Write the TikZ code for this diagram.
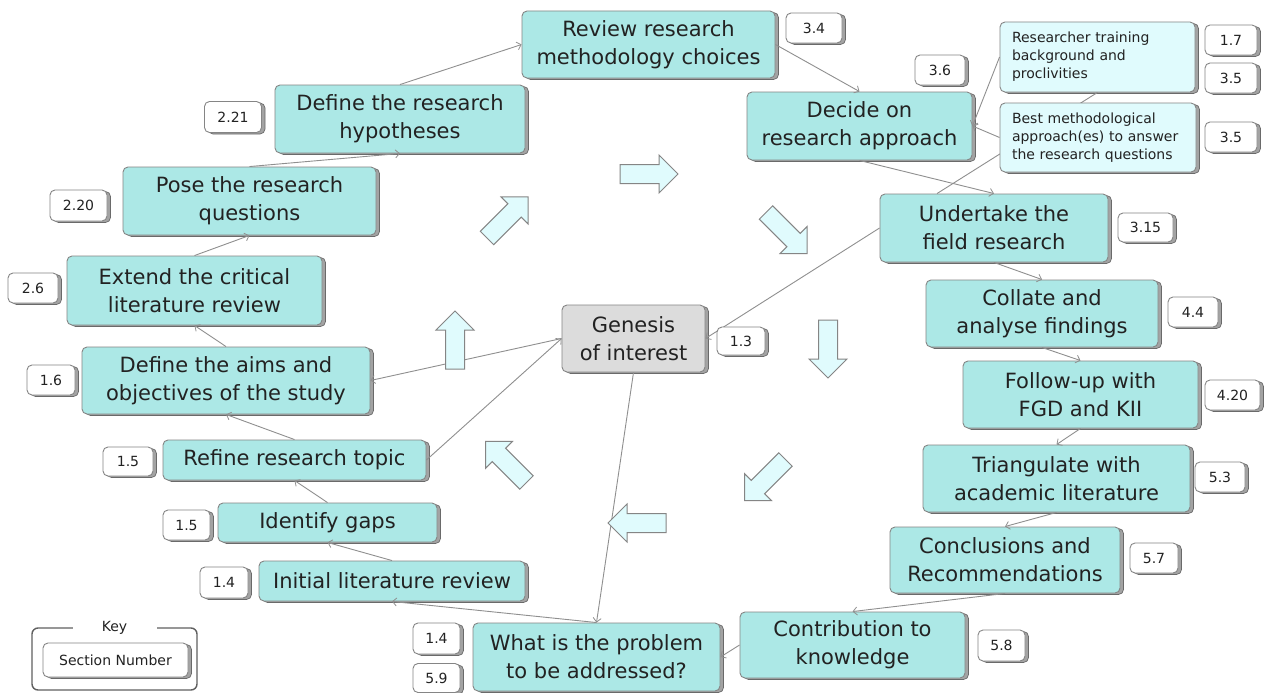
\documentclass[tikz,border=0pt]{standalone}
\usepackage{fontspec}
\newfontfamily\dvs{DejaVu Sans}
\usetikzlibrary{arrows.meta,shadows,backgrounds}

\definecolor{boxteal}{HTML}{ACE8E6}
\definecolor{boxpale}{HTML}{E0FBFD}
\definecolor{boxgrey}{HTML}{DCDCDC}
\definecolor{edgegrey}{HTML}{858585}
\definecolor{shadowgrey}{HTML}{A3A3A3}
\definecolor{textdark}{HTML}{222222}
\definecolor{linegrey}{HTML}{8F8F8F}
\definecolor{keygrey}{HTML}{606060}

\begin{document}
\begin{tikzpicture}[x=1pt,y=-1pt,
  wh/.style 2 args={minimum width=#1pt, minimum height=#2pt},
  base/.style={draw=edgegrey, line width=0.9pt, rounded corners=5pt, inner sep=0pt,
    text=textdark, align=center,
    copy shadow={shadow xshift=3.5pt, shadow yshift=-1.5pt, fill=shadowgrey,
      draw=edgegrey!80!black, line width=0.7pt}},
  stage/.style={base, fill=boxteal, font=\dvs\fontsize{21}{28}\selectfont},
  origin/.style={base, fill=boxgrey, font=\dvs\fontsize{21}{28}\selectfont},
  factor/.style={base, fill=boxpale, align=left, font=\dvs\fontsize{14}{18}\selectfont},
  secnum/.style={base, fill=white, font=\dvs\fontsize{14}{17}\selectfont},
  conn/.style={draw=linegrey, line width=0.9pt},
  arr/.style={conn, -{Straight Barb[length=4pt,width=8pt,line width=0.8pt]}},
  cyclearrow/.style={draw=edgegrey, line width=1pt, fill=boxpale, line join=miter}
]
\useasboundingbox (0,0) rectangle (1271,693);
\begin{pgfonlayer}{background}
  \fill[white] (0,0) rectangle (1271,693);
\end{pgfonlayer}

% ---------- stages of the research cycle ----------
\node[stage, wh={253}{67}] (review) at (648.5,44.5) {Review research\\methodology choices};
\node[stage, wh={250}{68}] (hyp) at (400,119) {Define the research\\hypotheses};
\node[stage, wh={253}{68}] (pose) at (249.5,201) {Pose the research\\questions};
\node[stage, wh={255}{69}] (extend) at (194.5,290.5) {Extend the critical\\literature review};
\node[stage, wh={288}{67}] (aims) at (226,380.5) {Define the aims and\\objectives of the study};
\node[stage, wh={263}{40}] (refine) at (294.5,460) {Refine research topic};
\node[stage, wh={219}{39}] (gaps) at (327.5,522.5) {Identify gaps};
\node[stage, wh={266}{40}] (initial) at (392,581) {Initial literature review};
\node[stage, wh={247}{68}] (problem) at (596.5,657) {What is the problem\\to be addressed?};
\node[stage, wh={225}{66}] (contrib) at (852.5,645) {Contribution to\\knowledge};
\node[stage, wh={230}{66}] (concl) at (1005,560) {Conclusions and\\Recommendations};
\node[stage, wh={267}{67}] (triang) at (1056.5,478.5) {Triangulate with\\academic literature};
\node[stage, wh={235}{67}] (follow) at (1080.5,394.5) {Follow-up with\\FGD and KII};
\node[stage, wh={232}{67}] (collate) at (1042,313.5) {Collate and\\analyse findings};
\node[stage, wh={228}{68}] (field) at (994,228) {Undertake the\\field research};
\node[stage, wh={225}{68}] (decide) at (859.5,126) {Decide on\\research approach};
\node[origin, wh={143}{67}] (genesis) at (633.5,338.5) {Genesis\\of interest};
\node[factor, wh={195}{70}, text width=171pt] (training) at (1097.5,57)
  {Researcher training\\background and\\proclivities};

% ---------- section numbers ----------
\node[secnum, wh={56}{30}] (s34) at (814,28) {3.4};
\node[secnum, wh={57}{31}] (s221) at (233,117) {2.21};
\node[secnum, wh={57}{31}] (s220) at (78.5,205.5) {2.20};
\node[secnum, wh={50}{30}] (s26) at (33,288) {2.6};
\node[secnum, wh={48}{30}] (s16) at (51,380) {1.6};
\node[secnum, wh={50}{29}] (s15a) at (128,461.5) {1.5};
\node[secnum, wh={47}{30}] (s15b) at (186.5,525) {1.5};
\node[secnum, wh={48}{31}] (s14a) at (224,582.5) {1.4};
\node[secnum, wh={47}{31}] (s14b) at (436.5,638.5) {1.4};
\node[secnum, wh={47}{29}] (s59) at (436.5,678) {5.9};
\node[secnum, wh={47}{31}] (s58) at (1001.5,645.5) {5.8};
\node[secnum, wh={48}{30}] (s57) at (1154,558) {5.7};
\node[secnum, wh={50}{30}] (s53) at (1220,477) {5.3};
\node[secnum, wh={55}{30}] (s420) at (1232.5,395) {4.20};
\node[secnum, wh={50}{30}] (s44) at (1193,312) {4.4};
\node[secnum, wh={55}{29}] (s315) at (1145.5,227.5) {3.15};
\node[secnum, wh={50}{30}] (s36) at (940,70) {3.6};
\node[secnum, wh={52}{30}] (s17) at (1231,40) {1.7};
\node[secnum, wh={52}{30}] (s35a) at (1231,78) {3.5};
\node[secnum, wh={52}{30}] (s35b) at (1231,137) {3.5};

% ---------- connectors that run behind later boxes ----------
\draw[arr] (field.west) -- (genesis.east);
\draw[conn] (training.south) -- ([xshift=-57pt]field.north);

% boxes drawn over those connectors
\node[factor, wh={196}{69}, text width=172pt] (best) at (1098,137.5)
  {Best methodological\\approach(es) to answer\\the research questions};
\node[secnum, wh={48}{28}] (s13) at (741,341) {1.3};

% ---------- connectors between the stages ----------
\draw[arr] (hyp.north) -- (review.west);
\draw[arr] (review.east) -- (decide.north);
\draw[arr] (training.west) -- (decide.east);
\draw[arr] (best.west) -- (decide.east);
\draw[arr] (decide.south) -- (field.north);
\draw[arr] (field.south) -- (collate.north);
\draw[arr] (collate.south) -- (follow.north);
\draw[arr] (follow.south) -- (triang.north);
\draw[arr] (triang.south) -- (concl.north);
\draw[arr] (concl.south) -- (contrib.north);
\draw[arr] (contrib.west) -- (problem.east);
\draw[arr] (genesis.south) -- (problem.north);
\draw[arr] (problem.north) -- (initial.south);
\draw[arr] (initial.north) -- (gaps.south);
\draw[arr] (gaps.north) -- (refine.south);
\draw[arr] (refine.north) -- (aims.south);
\draw[arr] (refine.east) -- (genesis.west);
\draw[arr] (genesis.west) -- (aims.east);
\draw[arr] (aims.north) -- (extend.south);
\draw[arr] (extend.north) -- (pose.south);
\draw[arr] (pose.north) -- (hyp.south);

% ---------- ring of block arrows (clockwise) ----------
\foreach \cx/\cy/\ang in {649/174/0, 786.5/233/-45, 828/349/-90, 765/480/-135,
                         637/523/180, 506/462/135, 455/340/90, 507.5/217.5/45}{
  \draw[cyclearrow, shift={(\cx,\cy)}, rotate=\ang]
    (-29,-9.5) -- (10,-9.5) -- (10,-19) -- (29,0) -- (10,19) -- (10,9.5) -- (-29,9.5) -- cycle;
}

% ---------- key ----------
\draw[draw=keygrey, line width=1.4pt, rounded corners=6pt] (32,628) rectangle (197,690);
\node[fill=white, inner sep=0pt, wh={84}{14}, text=textdark,
      font=\dvs\fontsize{14}{17}\selectfont] (keylabel) at (114.5,628) {Key};
\node[secnum, wh={145}{34}] (keysample) at (115.5,660) {Section Number};
\end{tikzpicture}
\end{document}
